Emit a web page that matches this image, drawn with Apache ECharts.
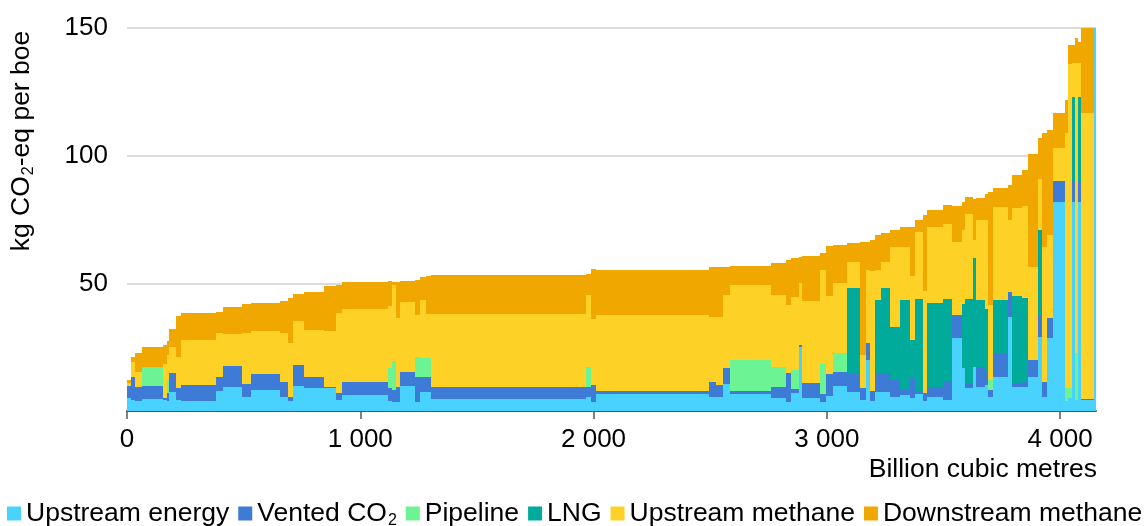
<!DOCTYPE html>
<html>
<head>
<meta charset="utf-8">
<script src="https://cdn.jsdelivr.net/npm/echarts@6/dist/echarts.min.js"></script>
<style>
  html, body { margin: 0; padding: 0; background: #fff; }
  #chart { width: 1148px; height: 526px; }
</style>
</head>
<body>
<div id="chart"></div>
<script>
// segment widths, billion cubic metres (sorted supply curve)
const volumes = [19,17,28,90,17,9,29,24,150,28, 83,39,121,36,21,46,86,54,26,196,
  15,21,17,61,21,26,24,665,21,21, 483,32,28,29,179,64,21,33,15,74,
  29,28,60,55,26,17,21,29,39,40, 43,21,36,15,71,36,43,14,36,12,
  39,14,21,64,15,43,28,43,15,21, 28,50,14,16,13,13,12,58,7];

// kg CO2-eq per boe, by component
const upstreamEnergy = [5.0,4.3,3.9,4.7,4.5,4,7.6,4.5,3.9,7.8, 9.3,5.5,8.2,5.6,4,9.8,8.9,8.9,4.2,6.3,
  4,3.6,3.7,9.8,3.6,7.6,7.6,4.7,5.6,3.6, 6.7,5.6,5.6,10.4,6.7,5.0,3.6,7,25,5.0,
  3.6,6,9.7,7.6,4.3,20,4,7.6,7.6,5.6, 6.3,5,6.5,4,5.6,4.3,28.5,17,8.9,17.4,
  9.5,10,5.6,13.4,36.9,9.5,9.5,13.4,29.1,5.6, 28.5,82,4,5,82,4.3,82,4.3,150];
const ventedCO2 = [4.8,9.0,5.4,5.1,0.5,3,7.4,4.5,6.3,5.6, 8.5,5.0,6.3,5.9,1.6,8.2,4.6,0.4,3,5.2,
  5,4.6,5.6,5.6,9.8,5.7,5.7,4.8,3.9,6.5, 1.3,5.9,4.6,6.3,1.3,4.5,11.1,1.5,1,6.1,
  3,8.5,5.7,7.4,4.6,6.5,4,7.4,7.4,6.5, 2,8,1.5,3,3.9,7.2,9.1,0,2,0,
  7.8,5,2.6,9.2,9.8,1.3,2,6.5,8.5,5.9, 7.8,8.1,0,0,8.1,0,8.1,0.4,0];
const pipeline = [0,0,0,7.6,0,5,0,0,0,0, 0,0,0,0,0,0,0,0,0,0,
  8,11.4,0,0,7.8,7.4,7.4,0,7.6,0, 0,0,0,0,11.8,7.6,0,7.5,0,0,
  12,0,7.3,0,0,0,0,0,0,0, 0,0,0,0,0,0,0,0,0,0,
  0,0,3.9,0,0,0,0,0,0,0, 0,0,5,4,0,18.3,0,0,0];
const lng = [0,0,0,0,0,0,0,0,0,0, 0,0,0,0,0,0,0,0,0,0,
  0,0,0,0,0,0,0,0,0,0, 0,0,0,0,0,0,0,0,0,0,
  0,0,0,33.3,0,0,0,28.5,33.3,20.9, 35.2,15,36,0,32.7,32.2,0,25,32.9,42.4,
  26.1,25,0,20.9,0,34.4,32.7,0,33.3,0, 0,0,0,0,33,0,33,0,0];
const upstreamMethane = [1.2,5.9,6.1,0,13.3,10,10.2,12,17.6,17.2, 12.4,20,16.8,19,20.9,17.2,18.3,22,31.1,28.3,
  24,29.8,27,27.4,16.3,22.6,17.4,28.6,28.3,26.1, 29.6,25.5,26.8,28.7,29.6,28.3,26.8,28.8,24,32.1,
  36.6,30.5,27.4,10.2,13.1,28.7,47,11.8,10.2,31.3, 20.9,25,26.1,40,30,29.4,28.7,28.9,33.3,7,
  31.3,35,29.4,36.5,28,34.3,36,36.5,20,52.9, 32.6,12.8,100,127,13.1,113.6,13.1,112,0];
const downstreamMethane = [1.2,2.0,7.2,7.6,7.4,5.6,6.8,16.4,10.4,8.0, 10.7,11.3,11.1,12.6,17.6,10.6,14.9,17.6,11.1,10.6,
  10,1.3,14.3,8.1,13.7,9.1,14.7,15.0,8.2,19.3, 17.8,19.3,19.3,11.1,7.2,12.4,17.6,15.0,10.2,17.5,
  6.6,19.5,15,7.4,44,11.1,12,13.7,11.1,6.5, 7.6,19,4.6,29.8,6.5,7.4,14.0,11.1,6.8,16.3,
  8.9,10,44.4,7.2,13.7,13.1,14.2,44.4,16,44.4, 41.1,13.7,12.8,7.2,7.2,9.8,8.5,33.3,0];

const seriesNames = ['Upstream energy', 'Vented CO2', 'Pipeline', 'LNG', 'Upstream methane', 'Downstream methane'];
const seriesValues = [upstreamEnergy, ventedCO2, pipeline, lng, upstreamMethane, downstreamMethane];
const colors = ['#4ad2ff', '#3e7bd6', '#6cf393', '#00ab9c', '#fdd126', '#f0a700'];
const xTicks = [0, 1000, 2000, 3000, 4000];

const font = 'Liberation Sans, Arial, sans-serif';

// build [x0, x1, y0, y1] rectangles, stacked per segment
let starts = [];
let acc = 0;
volumes.forEach(v => { starts.push(acc); acc += v; });
const xMax = acc;

let base = volumes.map(() => 0);
let series = seriesNames.map((name, k) => {
    const data = [];
    volumes.forEach((v, i) => {
        const val = seriesValues[k][i];
        if (val > 0) {
            data.push([starts[i], starts[i] + v, base[i], base[i] + val]);
        }
        base[i] += val;
    });
    return {
        name: name,
        type: 'custom',
        itemStyle: { color: colors[k] },
        encode: { x: [0, 1], y: [2, 3] },
        renderItem: function (params, api) {
            const a = api.coord([api.value(0), api.value(3)]);
            const b = api.coord([api.value(1), api.value(2)]);
            const x0 = Math.round(a[0]), x1 = Math.round(b[0]);
            const y0 = Math.round(a[1]), y1 = Math.round(b[1]);
            return {
                type: 'rect',
                shape: { x: x0, y: y0, width: Math.max(x1 - x0, 1), height: y1 - y0 },
                style: { fill: colors[k] }
            };
        },
        data: data
    };
});

const rich = {
    n: { fontSize: 26.5, fontFamily: font, color: '#000', lineHeight: 30 },
    s: { fontSize: 16, fontFamily: font, color: '#000', lineHeight: 30, verticalAlign: 'bottom', padding: [0, 0, 0, 1] }
};

const chart = echarts.init(document.getElementById('chart'));
chart.setOption({
    animation: false,
    grid: { left: 127, right: 52, top: 28, bottom: 115 },
    legend: {
        data: seriesNames,
        left: 7,
        top: 500,
        padding: 0,
        icon: 'rect',
        itemWidth: 14,
        itemHeight: 14,
        itemGap: 9,
        formatter: name => name === 'Vented CO2' ? '{n|Vented CO}{s|2}' : '{n|' + name + '}',
        textStyle: { fontSize: 26.5, fontFamily: font, color: '#000', rich: rich }
    },
    xAxis: {
        type: 'value',
        min: 0,
        max: xMax,
        splitLine: { show: false },
        axisLine: { show: true, lineStyle: { color: '#4b5b61', width: 2 } },
        axisTick: { show: true, length: 8, customValues: xTicks, lineStyle: { color: '#4b5b61', width: 1.5 } },
        axisLabel: {
            customValues: xTicks,
            margin: 16,
            fontSize: 26,
            fontFamily: font,
            color: '#000',
            formatter: v => String(v).replace(/\B(?=(\d{3})+(?!\d))/g, ' ')
        }
    },
    yAxis: {
        type: 'value',
        min: 0,
        max: 150,
        interval: 50,
        axisLine: { show: false },
        axisTick: { show: false },
        splitLine: { lineStyle: { color: '#dadada', width: 2 } },
        axisLabel: {
            margin: 19,
            fontSize: 26,
            fontFamily: font,
            color: '#000',
            formatter: v => (v === 0 ? '' : String(v))
        }
    },
    graphic: [
        {
            type: 'text',
            x: 22,
            y: 141,
            rotation: Math.PI / 2,
            style: {
                text: '{n|kg CO}{s|2}{n|-eq per boe}',
                rich: rich,
                align: 'center',
                verticalAlign: 'middle'
            }
        },
        {
            type: 'text',
            right: 51,
            top: 456,
            style: { text: 'Billion cubic metres', fontSize: 26.5, fontFamily: font, fill: '#000' }
        }
    ],
    series: series
});
</script>
</body>
</html>
